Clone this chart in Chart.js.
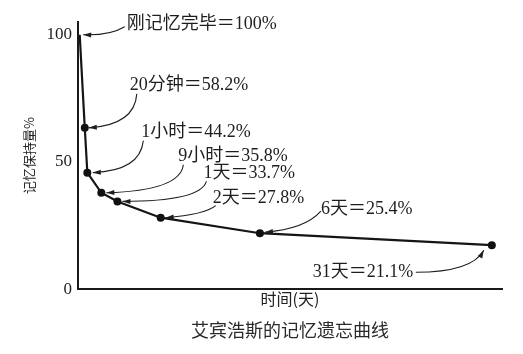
<!DOCTYPE html>
<html>
<head>
<meta charset="utf-8">
<script src="https://cdn.jsdelivr.net/npm/chart.js@4.4.0/dist/chart.umd.min.js"></script>
<style>
  html, body { margin: 0; padding: 0; background: #fff; }
</style>
</head>
<body>
<canvas id="myChart" width="523" height="354"></canvas>
<script>
var stages = ['刚记忆完毕', '20分钟', '1小时', '9小时', '1天', '2天', '6天', '31天'];
var stagePct = ['100%', '58.2%', '44.2%', '35.8%', '33.7%', '27.8%', '25.4%', '21.1%'];
// where each stage sits along the (not to scale) time axis, 0..100
var xPos = [0.4, 1.6, 2.2, 5.5, 9.3, 19.5, 42.9, 97.6];
// retention as it is drawn in the figure
var retention = [100, 63.4, 45.8, 37.9, 34.5, 28.1, 22.0, 17.3];
var yTicks = [0, 50, 100];

// callout layout, pixel offsets from each point:
// t = text start, s = arrow start, c = curve control, e = arrow tip
var callouts = [
  { tx: 47, ty: -10, sx: 45, sy: -8,  cx: 30, cy: 1,   ex: 3.5, ey: 0 },
  { tx: 45, ty: -43, sx: 52, sy: -34, cx: 50, cy: -3,  ex: 4,   ey: 0 },
  { tx: 54, ty: -40, sx: 56, sy: -32, cx: 53, cy: -2,  ex: 5.5, ey: 0 },
  { tx: 77, ty: -36, sx: 82, sy: -28, cx: 79, cy: -2,  ex: 5,   ey: 0 },
  { tx: 86, ty: -28, sx: 89, sy: -20, cx: 83, cy: 0,   ex: 5,   ey: 0 },
  { tx: 52, ty: -19, sx: 55, sy: -12, cx: 44, cy: -3,  ex: 5,   ey: 0 },
  { tx: 61, ty: -24, sx: 61, sy: -22, cx: 45, cy: -4,  ex: 5,   ey: -1 },
  { tx: -179, ty: 27, sx: -76, sy: 27, cx: -20, cy: 27, ex: -8, ey: 5 }
];

var pts = xPos.map(function(x, i) { return { x: x, y: retention[i] }; });

var calloutPlugin = {
  id: 'callouts',
  afterDatasetsDraw: function(chart) {
    var ctx = chart.ctx;
    var meta = chart.getDatasetMeta(0);
    ctx.save();
    ctx.font = '18px "Liberation Serif", "Noto Sans CJK SC", serif';
    ctx.fillStyle = '#1e1e1e';
    ctx.strokeStyle = '#1e1e1e';
    ctx.lineWidth = 1.1;
    ctx.textBaseline = 'middle';
    ctx.textAlign = 'left';
    meta.data.forEach(function(p, i) {
      var c = callouts[i];
      ctx.fillText(stages[i] + '＝' + stagePct[i], p.x + c.tx, p.y + c.ty);
      var x0 = p.x + c.sx, y0 = p.y + c.sy;
      var x1 = p.x + c.cx, y1 = p.y + c.cy;
      var x2 = p.x + c.ex, y2 = p.y + c.ey;
      ctx.beginPath();
      ctx.moveTo(x0, y0);
      ctx.quadraticCurveTo(x1, y1, x2, y2);
      ctx.stroke();
      // arrow head
      var a = Math.atan2(y2 - y1, x2 - x1);
      ctx.beginPath();
      ctx.moveTo(x2, y2);
      ctx.lineTo(x2 - 8 * Math.cos(a) + 2.5 * Math.sin(a), y2 - 8 * Math.sin(a) - 2.5 * Math.cos(a));
      ctx.lineTo(x2 - 8 * Math.cos(a) - 2.5 * Math.sin(a), y2 - 8 * Math.sin(a) + 2.5 * Math.cos(a));
      ctx.closePath();
      ctx.fill();
    });
    ctx.restore();
  }
};

new Chart('myChart', {
  type: 'line',
  data: {
    datasets: [{
      data: pts,
      borderColor: '#151515',
      borderWidth: 2.2,
      backgroundColor: '#111',
      pointBorderWidth: 0,
      pointRadius: function(c) { return c.dataIndex === 0 ? 0 : 4; },
      tension: 0
    }]
  },
  options: {
    responsive: false,
    animation: false,
    devicePixelRatio: 1,
    layout: {
      padding: { left: 17, right: 21, top: 22, bottom: 0 }
    },
    plugins: {
      legend: { display: false },
      tooltip: { enabled: false },
      title: {
        display: true,
        position: 'bottom',
        fullSize: false,
        text: '艾宾浩斯的记忆遗忘曲线',
        color: '#2a2a2a',
        font: { size: 18, weight: 'normal', family: '"Noto Sans CJK SC", sans-serif' },
        padding: { top: 9, bottom: 13 }
      }
    },
    scales: {
      x: {
        type: 'linear',
        min: 0,
        max: 100,
        ticks: { display: false },
        grid: { display: false, drawTicks: false },
        border: { color: '#1a1a1a', width: 2 },
        title: {
          display: true,
          text: '时间(天)',
          color: '#222',
          font: { size: 16, family: '"Noto Sans CJK SC", sans-serif' },
          padding: { top: 0, bottom: 2 }
        }
      },
      y: {
        min: 0,
        max: 105,
        afterBuildTicks: function(scale) {
          scale.ticks = yTicks.map(function(v) { return { value: v }; });
        },
        afterFit: function(scale) { scale.width = 61; },
        ticks: {
          padding: 6,
          color: '#1e1e1e',
          font: { size: 17, family: '"Liberation Serif", serif' }
        },
        grid: { display: false, drawTicks: false },
        border: { color: '#1a1a1a', width: 2 },
        title: {
          display: true,
          text: '记忆保持量%',
          color: '#222',
          font: { size: 13, family: '"Noto Sans CJK SC", sans-serif' },
          padding: 4
        }
      }
    }
  },
  plugins: [calloutPlugin]
});
</script>
</body>
</html>
